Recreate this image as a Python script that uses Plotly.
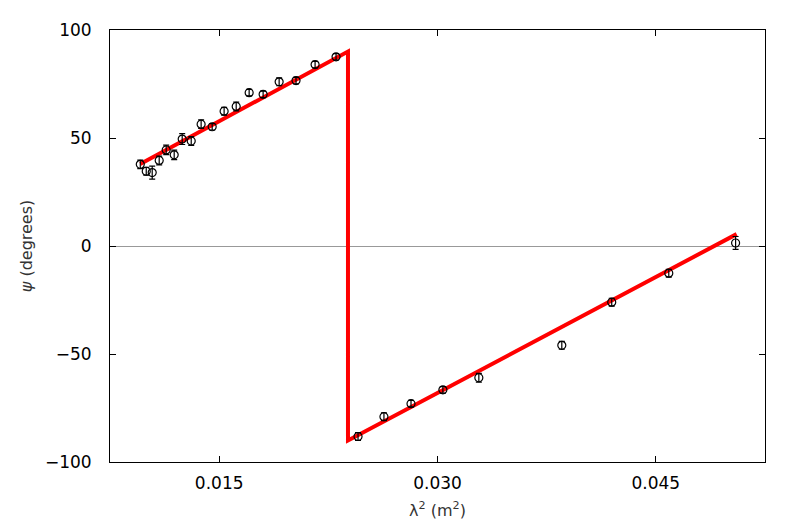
import plotly.graph_objects as go

# Data
lam2 = [0.00958, 0.00999, 0.0104, 0.01088, 0.01136, 0.01191, 0.01246, 0.01308,
        0.01376, 0.01452, 0.01534, 0.01617, 0.01706, 0.01802, 0.01912, 0.02028,
        0.02159, 0.02303, 0.02454, 0.02632, 0.02818, 0.03037, 0.03284, 0.03854,
        0.04197, 0.04589, 0.05048]
psi = [37.8, 34.6, 34.0, 39.6, 44.5, 42.2, 49.5, 48.6, 56.4, 55.2, 62.4, 64.6,
       71.0, 70.2, 76.0, 76.6, 84.0, 87.6, -88.2, -79.0, -73.0, -66.6, -61.0,
       -46.0, -26.0, -12.6, 1.4]
psi_err = [2.0, 1.8, 3.0, 2.0, 2.2, 2.2, 2.5, 2.0, 2.0, 1.5, 1.8, 2.0,
           1.5, 1.5, 1.8, 1.5, 1.5, 1.5, 1.8, 1.8, 1.5, 1.5, 2.0,
           1.8, 1.8, 1.8, 3.0]

fit_lam2 = [0.00958, 0.02385, 0.02385, 0.05055]
fit_psi = [38.0, 90.0, -90.0, 5.5]

x_tickvals = [0.015, 0.030, 0.045]
x_ticktext = ["0.015", "0.030", "0.045"]
y_tickvals = [-100, -50, 0, 50, 100]
y_ticktext = ["\u2212100", "\u221250", "0", "50", "100"]

fig = go.Figure()

fig.add_trace(go.Scatter(
    x=fit_lam2, y=fit_psi, mode="lines",
    line=dict(color="#ff0000", width=4),
    showlegend=False, hoverinfo="skip"))

fig.add_trace(go.Scatter(
    x=lam2, y=psi, mode="markers",
    marker=dict(symbol="circle-open", size=8, color="black", line=dict(width=1.2, color="black")),
    error_y=dict(type="data", array=psi_err, visible=True, color="black", thickness=1.2, width=3),
    showlegend=False))

font_family = "DejaVu Sans"

fig.update_layout(
    width=806, height=532,
    margin=dict(l=102, r=49, t=18, b=78),
    paper_bgcolor="white", plot_bgcolor="white",
    font=dict(family=font_family, size=17, color="black"),
    xaxis=dict(
        range=[0.0075, 0.0525],
        tickvals=x_tickvals, ticktext=x_ticktext,
        ticks="inside", ticklen=6, tickcolor="black", tickwidth=1,
        showline=True, linecolor="black", linewidth=1, mirror="allticks",
        showgrid=False, zeroline=False,
        ticklabelstandoff=6,
        title=dict(text="\u03bb<sup>2</sup> (m<sup>2</sup>)", font=dict(size=16, color="#333"), standoff=12),
    ),
    yaxis=dict(
        range=[-100, 100],
        tickvals=y_tickvals, ticktext=y_ticktext,
        ticks="inside", ticklen=6, tickcolor="black", tickwidth=1,
        showline=True, linecolor="black", linewidth=1, mirror="allticks",
        showgrid=False,
        zeroline=True, zerolinecolor="#999999", zerolinewidth=1,
        ticklabelstandoff=14,
        title=dict(text="<i>\u03c8</i> (degrees)", font=dict(size=16, color="#333"), standoff=8),
    ),
)

fig.write_html("out.html")
